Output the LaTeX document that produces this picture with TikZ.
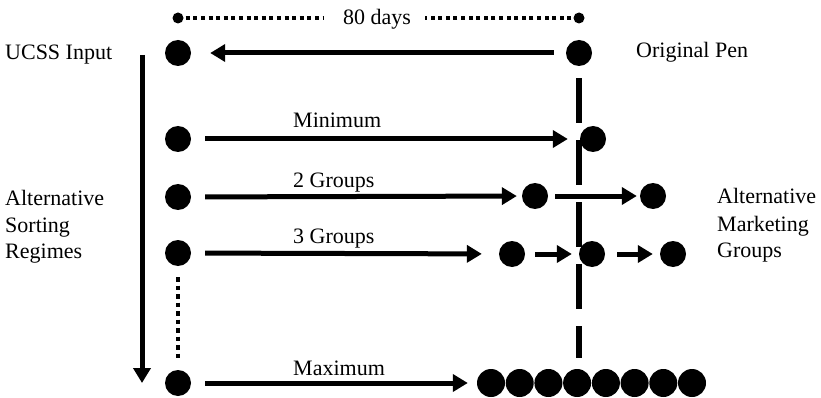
\documentclass[tikz,border=0pt]{standalone}
\usepackage{fontspec}
\setmainfont{Liberation Serif}
\usetikzlibrary{arrows.meta}
\tikzset{
  bigdot/.style={circle, fill=black, inner sep=0pt, minimum size=26pt},
  smalldot/.style={circle, fill=black, inner sep=0pt, minimum size=11pt},
  arr/.style={line width=5pt, -{Triangle[length=15pt,width=17pt]}},
  sqdots/.style={line width=4pt, dash pattern=on 4pt off 3.6pt},
  penline/.style={line width=5.5pt, dash pattern=on 45pt off 17pt},
  lbl/.style={inner sep=0pt, anchor=base west, font=\fontsize{22}{27}\selectfont},
}
\begin{document}
\begin{tikzpicture}[x=1pt,y=-1pt]
\useasboundingbox (0,0) rectangle (821,398);
% top span
\node[smalldot] (tl) at (178,18) {};
\node[smalldot] (tr) at (579,18) {};
\node[inner sep=0pt, anchor=base, font=\fontsize{22}{27}\selectfont] (days) at (377,25) {80 days};
\draw[sqdots, shorten <=2pt, shorten >=20pt] (tl) -- (tl -| days.west);
\draw[sqdots, shorten <=2pt, shorten >=14pt] (tr) -- (tr -| days.east);
% main nodes
\node[bigdot] (ucss) at (178,53) {};
\node[bigdot] (pen) at (579,53) {};
\node[bigdot] (rmin) at (178,139) {};
\node[bigdot] (r2) at (178,197) {};
\node[bigdot] (r3) at (178,253) {};
\node[bigdot] (rmax) at (178,383) {};
\node[bigdot] (minend) at (593,139) {};
\node[bigdot] (ga) at (535,196) {};
\node[bigdot] (gb) at (653,196) {};
\node[bigdot] (ha) at (512,254) {};
\node[bigdot] (hb) at (592,254) {};
\node[bigdot] (hc) at (673,254) {};
\foreach \i/\x in {1/491,2/519.7,3/548.4,4/577.1,5/605.9,6/634.6,7/663.3,8/692}
  \node[bigdot, minimum size=28pt] (m\i) at (\x,383) {};
% pen vertical dashed
\coordinate (penbot) at (579,358);
\draw[penline, shorten <=12pt] (pen) -- (penbot);
% arrows
\draw[arr, shorten <=12pt, shorten >=19pt] (pen) -- (ucss);
\draw[arr, shorten <=14pt, shorten >=12pt] (rmin) -- (minend);
\draw[arr, shorten <=14pt, shorten >=5pt] (r2) -- (ga);
\draw[arr, shorten <=7pt, shorten >=3pt] (ga) -- (gb);
\draw[arr, shorten <=14pt, shorten >=17pt] (r3) -- (ha);
\draw[arr, shorten <=10pt, shorten >=7pt] (ha) -- (hb);
\draw[arr, shorten <=12pt, shorten >=7pt] (hb) -- (hc);
\draw[arr, shorten <=14pt, shorten >=9pt] (rmax) -- (m1);
% left vertical arrow
\coordinate (vtop) at (142,55);
\coordinate (vbot) at (142,383);
\draw[arr] (vtop) -- (vbot);
% dotted vertical
\draw[line width=4.5pt, dash pattern=on 4.5pt off 4pt, shorten <=11pt, shorten >=8pt] (r3) -- (rmax);
% labels
\node[lbl] (lucss) at (5,60) {UCSS Input};
\node[lbl] (lpen) at (636,58) {Original Pen};
\node[lbl] (lmin) at (293,128) {Minimum};
\node[lbl] (l2) at (293,188) {2 Groups};
\node[lbl] (l3) at (293,243) {3 Groups};
\node[lbl] (lmax) at (293,375) {Maximum};
\node[lbl] (la1) at (5,205) {Alternative};
\node[lbl] (la2) at (5,232) {Sorting};
\node[lbl] (la3) at (5,258) {Regimes};
\node[lbl] (lb1) at (717,204) {Alternative};
\node[lbl] (lb2) at (717,231) {Marketing};
\node[lbl] (lb3) at (717,257) {Groups};
\end{tikzpicture}
\end{document}
